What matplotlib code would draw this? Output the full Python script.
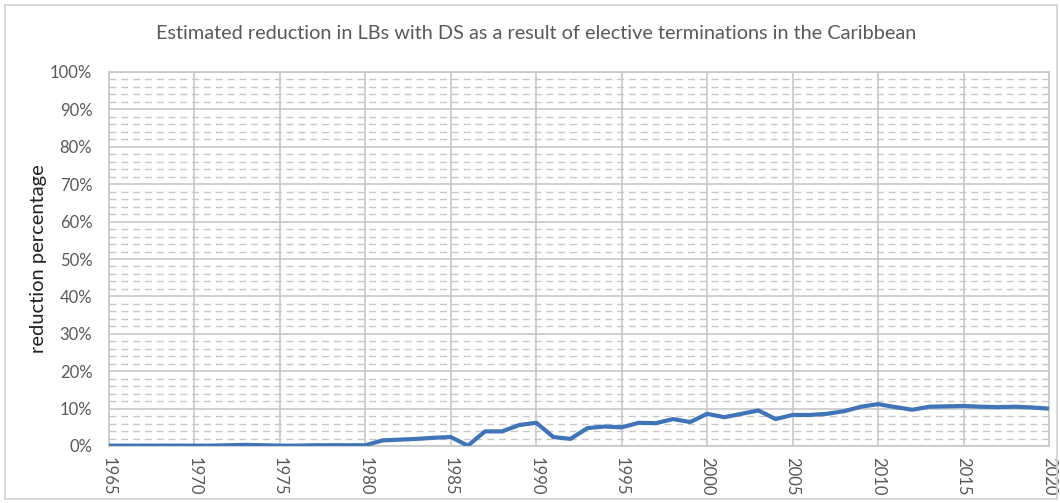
import matplotlib.pyplot as plt
import matplotlib.patches as patches
from matplotlib.ticker import MultipleLocator, PercentFormatter

anos = list(range(1965, 2021))
reducao = [
    0.1, 0.1, 0.1, 0.1, 0.1, 0.1, 0.1, 0.2, 0.3, 0.2,   # 1965-1974
    0.1, 0.1, 0.2, 0.2, 0.2, 0.2, 1.5, 1.7, 1.9, 2.2,   # 1975-1984
    2.4, 0.1, 3.9, 3.9, 5.6, 6.2, 2.4, 1.9, 4.8, 5.2,   # 1985-1994
    5.0, 6.2, 6.1, 7.2, 6.4, 8.6, 7.7, 8.6, 9.5, 7.2,   # 1995-2004
    8.3, 8.3, 8.6, 9.3, 10.5, 11.2, 10.4, 9.7, 10.5, 10.6,  # 2005-2014
    10.7, 10.5, 10.4, 10.5, 10.3, 10.0,                 # 2015-2020
]
anos_ticks = list(range(1965, 2021, 5))

cinza = '#595959'
plt.rcParams['font.family'] = ['Lato', 'DejaVu Sans']

fig = plt.figure(figsize=(10.6, 5.03), dpi=100)
ax = fig.add_axes([109 / 1060, 1 - 446 / 503, 940 / 1060, 374 / 503])

ax.plot(anos, reducao, color='#3f74b8', linewidth=3, solid_capstyle='butt', zorder=3)

ax.set_xlim(1965, 2020)
ax.set_ylim(0, 100)
ax.set_xticks(anos_ticks)
ax.set_xticklabels([str(a) for a in anos_ticks], rotation=-90, color=cinza, fontsize=12)
ax.yaxis.set_major_locator(MultipleLocator(10))
ax.yaxis.set_minor_locator(MultipleLocator(2))
ax.yaxis.set_major_formatter(PercentFormatter(decimals=0))
ax.tick_params(axis='y', colors=cinza, labelsize=12, length=0, which='both', pad=12)
ax.tick_params(axis='x', length=0, pad=8)

ax.grid(axis='y', which='major', color='#c8c8c8', linewidth=1.2)
ax.grid(axis='y', which='minor', color='#c8c8c8', linewidth=1.0, linestyle=(0, (5, 3.5)))
ax.grid(axis='x', which='major', color='#c8c8c8', linewidth=1.2)
for s in ax.spines.values():
    s.set_color('#c8c8c8')
    s.set_linewidth(1.2)

ax.set_ylabel('reduction percentage', fontsize=14.5, color='#222222', labelpad=2)
fig.text(536 / 1060, 1 - 33 / 503, 'Estimated reduction in LBs with DS as a result of elective terminations in the Caribbean',
         ha='center', va='center', fontsize=14.3, color=cinza)

# borda do gráfico (estilo Excel)
fig.patches.append(patches.Rectangle((5 / 1060, 4 / 503), 1052 / 1060, 494 / 503,
                                     transform=fig.transFigure, fill=False,
                                     edgecolor='#d0d0d0', linewidth=1.2))

fig.savefig('out.png', dpi=100)
